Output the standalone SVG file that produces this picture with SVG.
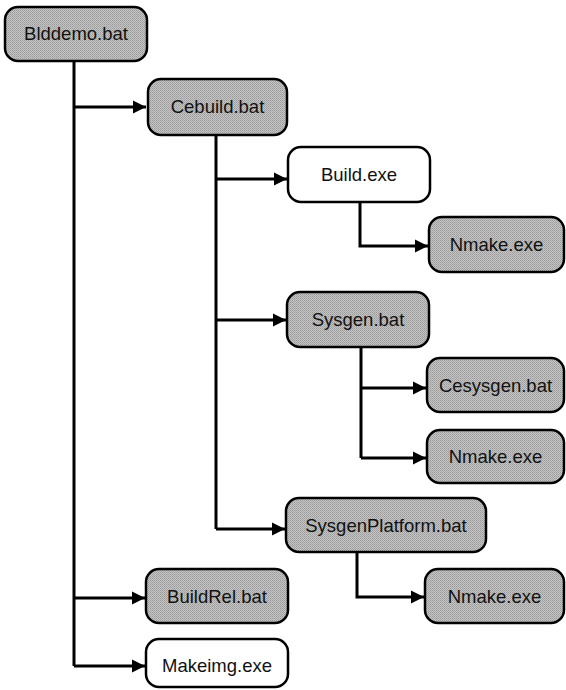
<svg xmlns="http://www.w3.org/2000/svg" width="566" height="690" viewBox="0 0 566 690">
<defs>
<pattern id="dots" width="2" height="2" patternUnits="userSpaceOnUse">
<rect width="2" height="2" fill="#c4c4c4"/>
<rect width="1" height="1" fill="#9a9a9a"/>
<rect x="1" y="1" width="1" height="1" fill="#a8a8a8"/>
</pattern>
<marker id="arr" markerUnits="userSpaceOnUse" markerWidth="15" markerHeight="16" refX="13" refY="8" orient="auto">
<path d="M0,1.5 L13,8 L0,14.5 Z" fill="#000"/>
</marker>
</defs>
<style>
.box{stroke:#000;stroke-width:2.5}
.g{fill:url(#dots)}
.w{fill:#fff}
.t{font-family:"Liberation Sans",Arial,sans-serif;font-size:18.5px;text-anchor:middle;fill:#111}
.c{fill:none;stroke:#000;stroke-width:3}
</style>
<rect width="566" height="690" fill="#fff"/>
<g id="connectors">
<path class="c" d="M74,61 V666"/>
<path class="c" d="M74,107 H146" marker-end="url(#arr)"/>
<path class="c" d="M74,598 H145" marker-end="url(#arr)"/>
<path class="c" d="M74,666 H145" marker-end="url(#arr)"/>
<path class="c" d="M216,135 V529"/>
<path class="c" d="M216,179 H287" marker-end="url(#arr)"/>
<path class="c" d="M216,320 H286" marker-end="url(#arr)"/>
<path class="c" d="M216,529 H285" marker-end="url(#arr)"/>
<path class="c" d="M360,202 V246 H428" marker-end="url(#arr)"/>
<path class="c" d="M361,347 V458"/>
<path class="c" d="M361,388 H426" marker-end="url(#arr)"/>
<path class="c" d="M361,458 H426" marker-end="url(#arr)"/>
<path class="c" d="M357,552 V597 H424" marker-end="url(#arr)"/>
</g>
<g id="blddemo"><rect class="box g" x="5" y="7" width="142" height="54" rx="13"/><text class="t" x="76" y="40">Blddemo.bat</text></g>
<g id="cebuild"><rect class="box g" x="148" y="79" width="139" height="56" rx="13"/><text class="t" x="217.5" y="113">Cebuild.bat</text></g>
<g id="build"><rect class="box w" x="288" y="147" width="142" height="55" rx="13"/><text class="t" x="359" y="181">Build.exe</text></g>
<g id="nmake1"><rect class="box g" x="429" y="217" width="135" height="55" rx="13"/><text class="t" x="496.5" y="251">Nmake.exe</text></g>
<g id="sysgen"><rect class="box g" x="287" y="292" width="142" height="55" rx="13"/><text class="t" x="358" y="326">Sysgen.bat</text></g>
<g id="cesysgen"><rect class="box g" x="427" y="358" width="137" height="54" rx="13"/><text class="t" x="495.5" y="392">Cesysgen.bat</text></g>
<g id="nmake2"><rect class="box g" x="427" y="430" width="137" height="53" rx="13"/><text class="t" x="495.5" y="463">Nmake.exe</text></g>
<g id="sysgenplatform"><rect class="box g" x="286" y="498" width="200" height="54" rx="13"/><text class="t" x="386" y="532">SysgenPlatform.bat</text></g>
<g id="nmake3"><rect class="box g" x="425" y="569" width="139" height="54" rx="13"/><text class="t" x="494.5" y="603">Nmake.exe</text></g>
<g id="buildrel"><rect class="box g" x="146" y="569" width="142" height="54" rx="13"/><text class="t" x="217" y="603">BuildRel.bat</text></g>
<g id="makeimg"><rect class="box w" x="146" y="639" width="142" height="48" rx="13"/><text class="t" x="217" y="672">Makeimg.exe</text></g>
</svg>
